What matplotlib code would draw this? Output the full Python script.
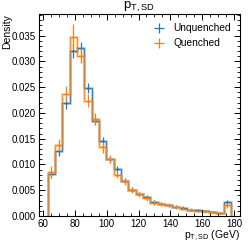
import numpy as np
import matplotlib
matplotlib.use("Agg")
import matplotlib.pyplot as plt
from matplotlib.ticker import AutoMinorLocator, MultipleLocator

plt.rcParams['font.family'] = ['Liberation Sans', 'DejaVu Sans']
plt.rcParams['mathtext.fontset'] = 'custom'
plt.rcParams['mathtext.rm'] = 'Liberation Sans'
plt.rcParams['mathtext.it'] = 'Liberation Sans'

# bin edges (GeV)
edges = np.linspace(63, 178, 26)

# densities
unquenched = [0.0081, 0.0126, 0.0219, 0.0320, 0.0325, 0.0248, 0.0185, 0.0146,
              0.0110, 0.0091, 0.0068, 0.0051, 0.0042, 0.0036, 0.0028, 0.0024,
              0.0021, 0.0018, 0.0016, 0.0012, 0.0011, 0.0009, 0.0007, 0.0006,
              0.0027]
quenched = [0.0085, 0.0138, 0.0237, 0.0348, 0.0311, 0.0224, 0.0189, 0.0133,
            0.0110, 0.0080, 0.0067, 0.0050, 0.0042, 0.0034, 0.0026, 0.0024,
            0.0021, 0.0018, 0.0014, 0.0012, 0.0010, 0.0009, 0.0007, 0.0006,
            0.0021]
unq_err = [0.0007, 0.0009, 0.0011, 0.0013, 0.0012, 0.0010, 0.0009, 0.0008,
           0.0007, 0.0006, 0.0006, 0.0005, 0.0004, 0.0004, 0.0004, 0.0003,
           0.0003, 0.0003, 0.0003, 0.0002, 0.0002, 0.0002, 0.0002, 0.0002,
           0.0004]
q_err = [0.0012, 0.0012, 0.0015, 0.0025, 0.0015, 0.0012, 0.0011, 0.0010,
         0.0008, 0.0007, 0.0007, 0.0006, 0.0005, 0.0005, 0.0005, 0.0004,
         0.0004, 0.0004, 0.0003, 0.0003, 0.0003, 0.0003, 0.0002, 0.0002,
         0.0005]

centers = 0.5 * (edges[1:] + edges[:-1])
width = edges[1] - edges[0]

fig = plt.figure(figsize=(2.49, 2.43), dpi=100)
ax = fig.add_axes([0.155, 0.111, 0.809, 0.831])

for vals, err, col, lab in [(unquenched, unq_err, '#1f77b4', 'Unquenched'),
                            (quenched, q_err, '#ff7f0e', 'Quenched')]:
    ax.stairs(vals, edges, color=col, lw=2.2, alpha=0.25)
    ax.stairs(vals, edges, color=col, lw=0.9, alpha=0.85)
    ax.errorbar(centers, vals, yerr=err, xerr=width / 3, fmt='none',
                ecolor=col, elinewidth=0.9, label=lab)

ax.set_ylim(bottom=0)
ax.xaxis.set_major_locator(MultipleLocator(20))
ax.xaxis.set_minor_locator(AutoMinorLocator(4))
ax.yaxis.set_minor_locator(AutoMinorLocator(5))
ax.yaxis.set_major_formatter(matplotlib.ticker.FormatStrFormatter('%.3f'))
ax.tick_params(which='both', direction='in', top=True, right=True, labelsize=7)
ax.tick_params(which='major', length=4.5, width=0.7, pad=2)
ax.tick_params(which='minor', length=2.3, width=0.6)
for s in ax.spines.values():
    s.set_linewidth(0.8)

ax.set_title(r'$\mathrm{p_{T,SD}}$', fontsize=9.5, pad=0)
ax.set_ylabel('Density', fontsize=7.5, loc='top', labelpad=0)
ax.set_xlabel(r'$\mathrm{p_{T,SD}}$ (GeV)', fontsize=7.5, loc='right', labelpad=0)
ax.legend(loc='upper right', frameon=False, fontsize=7.3, handlelength=1.2,
          handletextpad=0.8, borderaxespad=0.5, labelspacing=0.5)

plt.savefig('out.png', dpi=100)
